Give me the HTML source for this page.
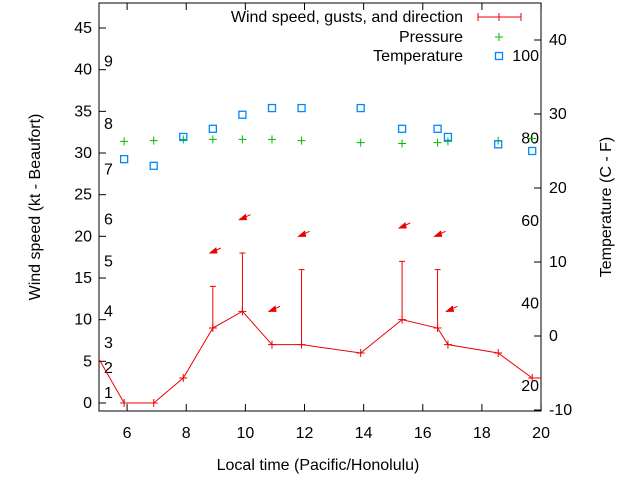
<!DOCTYPE html>
<html><head><meta charset="utf-8"><style>
body{margin:0;background:#fff}
svg{font-family:"Liberation Sans",sans-serif;font-size:16px}
</style></head><body>
<svg id="chart" width="640" height="480">
<defs><clipPath id="clip"><rect x="99" y="3" width="442" height="408"/></clipPath></defs>
<rect x="99" y="3" width="442" height="408" fill="none" stroke="#000"/>
<g id="axes"></g>
<g id="series" clip-path="url(#clip)"></g>
<text x="0" y="0" transform="translate(40,207) rotate(-90)" text-anchor="middle">Wind speed (kt - Beaufort)</text>
<text x="0" y="0" transform="translate(611,207) rotate(-90)" text-anchor="middle">Temperature (C - F)</text>
<text x="318" y="470" text-anchor="middle">Local time (Pacific/Honolulu)</text>
<g>
<text x="463" y="22" text-anchor="end">Wind speed, gusts, and direction</text>
<path d="M478 17H521M478 13V21M521 13V21M499 13V21" stroke="#e00" fill="none"/>
<text x="463" y="42" text-anchor="end">Pressure</text>
<path d="M495 37H503M499 33V41" stroke="#0b0"/>
<text x="463" y="61" text-anchor="end">Temperature</text>
<rect x="495.5" y="52.5" width="7" height="7" fill="none" stroke="#08f" stroke-width="1.3"/>
</g>
</svg>
<script>
const times=[5.9,6.9,7.9,8.9,9.9,10.9,11.9,13.9,15.3,16.5,16.85,18.55,19.7];
const wind=[0,0,3,9,11,7,7,6,10,9,7,6,3];
const gustTimes=[8.9,9.9,11.9,15.3,16.5];
const gusts=[14,18,16,17,16];
const arrowTimes=[8.8,9.8,10.8,11.8,15.2,16.4,16.8];
const arrowSpeeds=[18,22,11,20,21,20,11];
const pressure=[79.3,79.5,79.8,79.8,79.8,79.8,79.5,79.0,78.8,79.0,79.3,79.5,80.0];
const temperature=[23.9,23.0,26.9,28.0,29.9,30.8,30.8,30.8,28.0,28.0,26.9,25.9,25.0];
const xTicks=[6,8,10,12,14,16,18,20];
const yTicks=[0,5,10,15,20,25,30,35,40,45];
const y2Ticks=[-10,0,10,20,30,40];
const fLabels=[20,40,60,80,100];
const bftLabels=[1,2,3,4,5,6,7,8,9];
const bftY=[1.2,4.2,7.2,11,17,22,28,33.5,41];
const NS='http://www.w3.org/2000/svg';
const X=t=>99+(t-5.05)*29.57;
const Y=v=>403-v*8.333;
const Y2=c=>336-c*7.4;
const YF=f=>386-(f-20)*4.125;
const axes=document.getElementById('axes'),ser=document.getElementById('series');
function mk(tag,attrs,parent){const e=document.createElementNS(NS,tag);for(const k in attrs)e.setAttribute(k,attrs[k]);parent.appendChild(e);return e;}
xTicks.forEach(t=>{
 const g=mk('path',{d:`M${X(t)} 411v-7M${X(t)} 3v7`,stroke:'#000'},axes);
 
 
 const l=mk('text',{x:X(t),y:438,'text-anchor':'middle'},axes);l.textContent=t;
 
 
});
yTicks.forEach(v=>{
 const g=mk('path',{d:`M99 ${Y(v)}h7`,stroke:'#000'},axes);
 
 
 const l=mk('text',{x:92,y:Y(v)+5,'text-anchor':'end'},axes);l.textContent=v;
 
 
});
y2Ticks.forEach(c=>{
 const g=mk('path',{d:`M541 ${Y2(c)}h-7`,stroke:'#000'},axes);
 
 
 const l=mk('text',{x:549,y:Y2(c)+5},axes);l.textContent=c;
 
 
});
fLabels.forEach(f=>{
 const l=mk('text',{x:539,y:YF(f)+5,'text-anchor':'end'},axes);l.textContent=f;
 
 
});
bftLabels.forEach((b,i)=>{
 const l=mk('text',{x:104,y:Y(bftY[i])+5},axes);l.textContent=b;
 
 
});
let d=`M${X(4.9)} ${Y(6.2)}`+times.map((t,i)=>`L${X(t)} ${Y(wind[i])}`).join('')+`L${X(20.5)} ${Y(wind[wind.length-1])}`;
const wl=mk('path',{d,stroke:'#e00',fill:'none'},ser);


times.forEach((t,i)=>{
 const m=mk('path',{d:`M${X(t)-4} ${Y(wind[i])}h8M${X(t)} ${Y(wind[i])-4}v8`,stroke:'#e00'},ser);
 
 
});
gustTimes.forEach((t,i)=>{
 const wi=times.indexOf(t);
 const m=mk('path',{d:`M${X(t)} ${Y(wind[wi])}V${Y(gusts[i])}M${X(t)-3} ${Y(gusts[i])}h6`,stroke:'#e00'},ser);
 
 
});
arrowTimes.forEach((t,i)=>{
 const x=X(t),y=Y(arrowSpeeds[i]);
 const a=mk('g',{},ser);
 
 
 mk('path',{d:`M${x} ${y}l11 -5`,stroke:'#e00'},a);
 mk('path',{d:`M${x} ${y}l6 -5l1 5z`,fill:'#e00',stroke:'#e00'},a);
});
times.forEach((t,i)=>{
 const m=mk('path',{d:`M${X(t)-4} ${YF(pressure[i])}h8M${X(t)} ${YF(pressure[i])-4}v8`,stroke:'#0b0'},ser);
 
 
});
times.forEach((t,i)=>{
 const m=mk('rect',{x:X(t)-3.5,y:Y2(temperature[i])-3.5,width:7,height:7,fill:'none',stroke:'#08f','stroke-width':1.3},ser);
 
 
});
</script>
</body></html>
